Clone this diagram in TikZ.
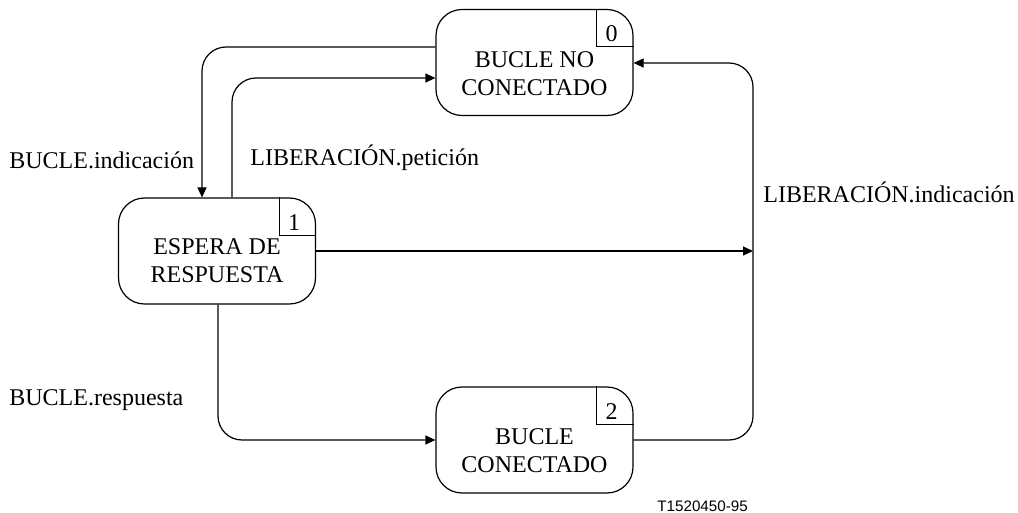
\documentclass[tikz,border=0pt]{standalone}
\usepackage{fontspec}
\setmainfont{Liberation Serif}
\newfontfamily\arialfont{Liberation Sans}
\usetikzlibrary{positioning,arrows.meta,calc}

\begin{document}
\begin{tikzpicture}[x=0.5pt,y=-0.5pt,
  estado/.style={draw,line width=0.6pt,rounded corners=13pt,minimum width=98.5pt,minimum height=53pt,inner sep=0pt},
  rotulo/.style={font=\fontsize{12}{14}\selectfont,inner sep=0pt},
  flecha/.style={line width=0.6pt,rounded corners=12pt,-{Triangle[length=5pt,width=4.5pt]}}]
\useasboundingbox (0,0) rectangle (1018,513);
% states (pixel coordinates, y downwards)
\node[estado,label={[rotulo,align=center,yshift=-5.5pt]center:BUCLE NO\\CONECTADO}] (b0) at (534.5,62.5) {};
\node[estado,label={[rotulo,align=center,yshift=-5pt]center:ESPERA DE\\RESPUESTA}] (b1) at (217,251) {};
\node[estado,label={[rotulo,align=center,yshift=-5.5pt]center:BUCLE\\CONECTADO}] (b2) at (534.5,440) {};
% state numbers in the top right corner
\foreach \n/\num in {b0/0,b1/1,b2/2} {
  \draw[line width=0.6pt] (\n.north east) ++(-37,0) |- ++(37,38);
  \node[rotulo,anchor=base] (n\num) at ([shift={(-22,33)}]\n.north east) {\num};
}
\coordinate (bus) at (753,251);
% transitions
\draw[flecha] (b0.west |- 0,47) -| (b1.north -| 202,0);
\draw[flecha] (b1.north -| 232,0) |- (b0.west |- 0,78);
\draw[flecha] (b1.east) -- (bus);
\draw[flecha] (b1.south -| 218,0) |- (b2.west);
\draw[flecha] (b2.east) -| (bus |- 0,63) -- (b0.east |- 0,63);
% primitives
\node[rotulo,anchor=base west] (ind) at (9,169) {BUCLE.indicación};
\node[rotulo,anchor=base west] (pet) at (250,166) {LIBERACIÓN.petición};
\node[rotulo,anchor=base west] (lind) at (763,203) {LIBERACIÓN.indicación};
\node[rotulo,anchor=base west] (resp) at (9,406) {BUCLE.respuesta};
\node[anchor=base west,inner sep=0pt,font=\arialfont\fontsize{7.6}{9}\selectfont] (ref) at (657,511) {T1520450-95};
\end{tikzpicture}
\end{document}
